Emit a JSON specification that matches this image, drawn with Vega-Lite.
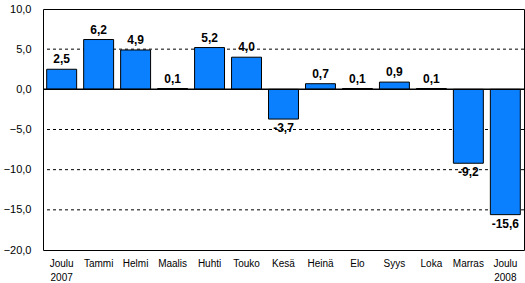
{
  "$schema": "https://vega.github.io/schema/vega-lite/v6.json",
  "autosize": "none",
  "width": 481,
  "height": 241,
  "padding": {"left": 43, "top": 9, "right": 1, "bottom": 33},
  "background": "white",
  "config": {
    "view": {"stroke": "black", "strokeWidth": 1},
    "font": "Liberation Sans"
  },
  "data": {
    "values": [
      {"kk": "Joulu 2007", "v": 2.5, "lbl": "2,5"},
      {"kk": "Tammi", "v": 6.2, "lbl": "6,2"},
      {"kk": "Helmi", "v": 4.9, "lbl": "4,9"},
      {"kk": "Maalis", "v": 0.1, "lbl": "0,1"},
      {"kk": "Huhti", "v": 5.2, "lbl": "5,2"},
      {"kk": "Touko", "v": 4.0, "lbl": "4,0"},
      {"kk": "Kesä", "v": -3.7, "lbl": "-3,7"},
      {"kk": "Heinä", "v": 0.7, "lbl": "0,7"},
      {"kk": "Elo", "v": 0.1, "lbl": "0,1"},
      {"kk": "Syys", "v": 0.9, "lbl": "0,9"},
      {"kk": "Loka", "v": 0.1, "lbl": "0,1"},
      {"kk": "Marras", "v": -9.2, "lbl": "-9,2"},
      {"kk": "Joulu 2008", "v": -15.6, "lbl": "-15,6"}
    ]
  },
  "encoding": {
    "x": {
      "field": "kk", "type": "nominal", "sort": null,
      "scale": {"paddingInner": 0.19, "paddingOuter": 0.1},
      "axis": {
        "title": null, "domain": false, "ticks": false, "labelAngle": 0,
        "labelFontSize": 10, "labelColor": "black", "labelPadding": 8,
        "labelExpr": "split(datum.value, ' ')", "labelLineHeight": 14,
        "labelBaseline": "top"
      }
    },
    "y": {
      "field": "v", "type": "quantitative",
      "scale": {"domain": [-20, 10], "nice": false},
      "axis": {
        "title": null, "domain": false, "ticks": false, "grid": false,
        "values": [-20, -15, -10, -5, 0, 5, 10],
        "labelExpr": "replace(format(datum.value, '.1f'), '.', ',')",
        "labelFontSize": 11, "labelColor": "black", "labelPadding": 12
      }
    }
  },
  "layer": [
    {
      "data": {"values": [{"g": 5}, {"g": -5}, {"g": -10}, {"g": -15}]},
      "mark": {"type": "rule", "color": "black", "strokeDash": [3, 3], "strokeWidth": 1},
      "encoding": {"y": {"field": "g", "type": "quantitative"}, "x": null}
    },
    {
      "mark": {"type": "bar", "color": "#0A80FF", "stroke": "black", "strokeWidth": 1},
      "encoding": {"y2": {"datum": 0}}
    },
    {
      "data": {"values": [{"z": 0}]},
      "mark": {"type": "rule", "color": "black", "strokeWidth": 1.5},
      "encoding": {"y": {"field": "z", "type": "quantitative"}, "x": null}
    },
    {
      "transform": [{"filter": "datum.v >= 0"}],
      "mark": {"type": "text", "baseline": "alphabetic", "dy": -6, "fontWeight": "bold", "fontSize": 12, "color": "black"},
      "encoding": {"text": {"field": "lbl"}}
    },
    {
      "transform": [{"filter": "datum.v < 0"}],
      "mark": {"type": "text", "baseline": "top", "dy": 4, "fontWeight": "bold", "fontSize": 12, "color": "black"},
      "encoding": {"text": {"field": "lbl"}}
    }
  ]
}
